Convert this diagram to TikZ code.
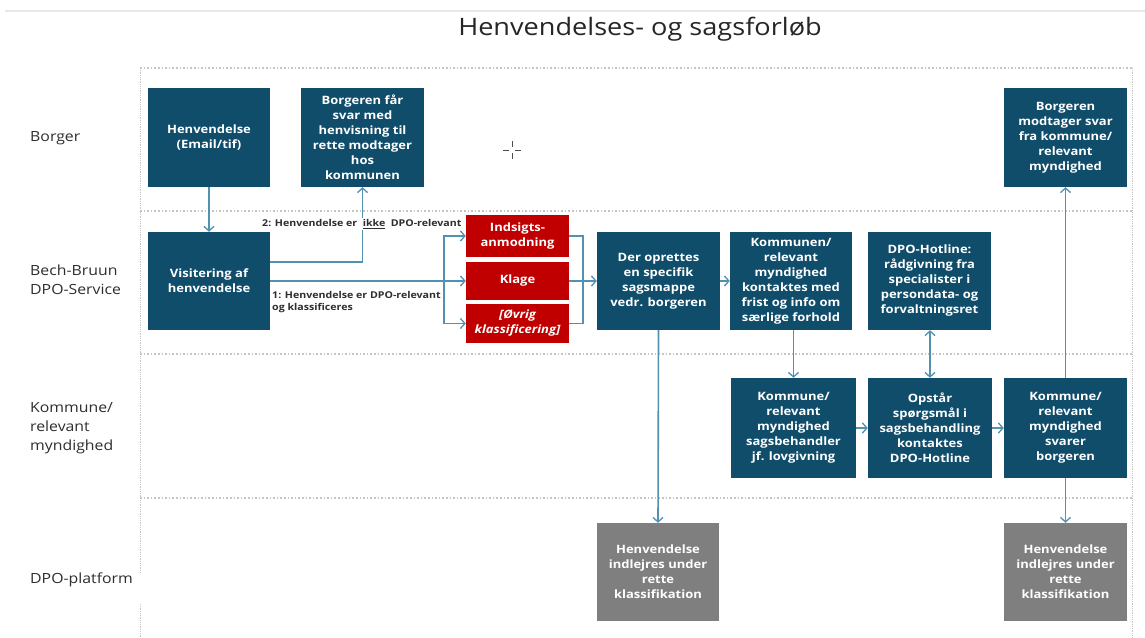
\documentclass[tikz,border=0pt]{standalone}
\usepackage{fontspec}
\setmainfont[FakeStretch=1.13]{Open Sans}
\usetikzlibrary{arrows.meta,calc}
\definecolor{dpoblue}{HTML}{0F4D6B}
\definecolor{dpored}{HTML}{C00000}
\definecolor{dpogray}{HTML}{7F7F7F}
\definecolor{connblue}{HTML}{5391B2}
\definecolor{lanegray}{HTML}{C4C4C4}
\definecolor{labelgray}{HTML}{2E2E2E}
\begin{document}
\begin{tikzpicture}[x=1pt,y=-1pt,
  boxtext/.style={text=white, font=\bfseries\fontsize{11.5}{15}\selectfont, align=center, inner sep=0pt},
  box/.style={boxtext, fill=dpoblue, minimum width=122pt, minimum height=99pt},
  redbox/.style={boxtext, fill=dpored, minimum width=103pt},
  graybox/.style={boxtext, fill=dpogray, minimum width=122pt, minimum height=98pt},
  lane/.style={draw=lanegray, line width=1.6pt, dotted},
  lanelabel/.style={anchor=west, align=left, text=labelgray, font=\fontsize{14}{19}\selectfont, inner sep=0pt},
  conn/.style={draw=connblue, line width=1.6pt},
  arr/.style={conn, -{Straight Barb[length=4.5pt,width=10pt,line width=1.3pt]}},
  darr/.style={conn, {Straight Barb[length=4.5pt,width=10pt,line width=1.3pt]}-{Straight Barb[length=4.5pt,width=10pt,line width=1.3pt]}},
  condlabel/.style={font=\bfseries\fontsize{9.4}{12.5}\selectfont, text=labelgray, inner sep=1pt, align=left}
]
\useasboundingbox (0,0) rectangle (1145,637);
\fill[white] (0,0) rectangle (1145,637);
% top rule
\draw[gray!18, line width=1.5pt] (5,11) -- (1145,11);
% title
\node[font=\fontsize{24}{28}\selectfont, text=black!85] (title) at (640,29) {Henvendelses- og sagsforløb};
% swimlanes
\draw[lane] (140,68) -- (1132,68);
\draw[lane] (140,211) -- (1132,211);
\draw[lane] (140,354) -- (1132,354);
\draw[lane] (140,498) -- (1132,498);
\draw[draw=lanegray, line width=0.8pt, densely dotted] (140,68) -- (140,573);
\draw[draw=lanegray, line width=0.8pt, densely dotted] (140,604) -- (140,637);
\draw[draw=lanegray, line width=0.8pt, densely dotted] (1132,68) -- (1132,637);
% lane labels
\node[lanelabel] (l1) at (30,138) {Borger};
\node[lanelabel] (l2) at (30,280) {Bech-Bruun\\DPO-Service};
\node[lanelabel] (l3) at (30,428) {Kommune/\\relevant\\myndighed};
\node[lanelabel] (l4) at (30,580) {DPO-platform};
% cursor
\draw[black!70, line width=0.9pt] (503,150) -- (509,150) (515,150) -- (521,150) (512,141) -- (512,147) (512,153) -- (512,159);
% Borger lane
\node[box] (henv) at (209,137.5) {Henvendelse\\(Email/tif)};
\node[box, minimum width=123pt] (svar1) at (362.5,137.5) {Borgeren får\\svar med\\henvisning til\\rette modtager\\hos\\kommunen};
\node[box, minimum width=123pt] (svar2) at (1065.5,137.5) {Borgeren\\modtager svar\\fra kommune/\\relevant\\myndighed};
% Bech-Bruun lane
\node[box, minimum height=98pt] (visit) at (209,281) {Visitering af\\henvendelse};
\node[redbox, minimum height=42pt] (indsigt) at (517.5,236) {Indsigts-\\anmodning};
\node[redbox, minimum height=38pt] (klage) at (517.5,281) {Klage};
\node[redbox, minimum height=39pt, font=\bfseries\itshape\fontsize{11.5}{15}\selectfont] (ovrig) at (517.5,323.5) {[Øvrig\\klassificering]};
\node[box, minimum width=123pt, minimum height=98pt] (opret) at (658.5,281) {Der oprettes\\en specifik\\sagsmappe\\vedr. borgeren};
\node[box, minimum height=98pt] (kontakt) at (791,281) {Kommunen/\\relevant\\myndighed\\kontaktes med\\frist og info om\\særlige forhold};
\node[box, minimum width=123pt, minimum height=98pt] (hotline) at (929.5,281) {DPO-Hotline:\\rådgivning fra\\specialister i\\persondata- og\\forvaltningsret};
% Kommune lane
\node[box, minimum width=125pt, minimum height=100pt] (sagsb) at (793.5,428) {Kommune/\\relevant\\myndighed\\sagsbehandler\\jf. lovgivning};
\node[box, minimum width=124pt, minimum height=100pt] (opstaar) at (930,428) {Opstår\\spørgsmål i\\sagsbehandling\\kontaktes\\DPO-Hotline};
\node[box, minimum width=123pt, minimum height=100pt] (svarer) at (1065.5,428) {Kommune/\\relevant\\myndighed\\svarer\\borgeren};
% DPO-platform lane
\node[graybox] (gray1) at (658,572) {Henvendelse\\indlejres under\\rette\\klassifikation};
\node[graybox, minimum width=123pt] (gray2) at (1065.5,572) {Henvendelse\\indlejres under\\rette\\klassifikation};
% connectors
\coordinate (br1) at (444,281);
\coordinate (br2) at (583,281);
\draw[arr] (henv.south) -- (visit.north);
\draw[arr] ([yshift=19pt]visit.east) -| (svar1.south);
\node[condlabel, fill=white, anchor=west] (lab2) at (261,224) {2: Henvendelse er \ \underline{ikke} \ DPO-relevant};
\draw[arr] (visit.east) -- (klage.west);
\draw[arr] (br1) |- (indsigt.west);
\draw[arr] (br1) |- (ovrig.west);
\node[condlabel, anchor=north west] (lab1) at (271,290) {1: Henvendelse er DPO-relevant\\og klassificeres};
\draw[conn] (indsigt.east) -| (br2);
\draw[conn] (ovrig.east) -| (br2);
\draw[arr] (klage.east) -- (opret.west);
\draw[arr] (opret.east) -- (kontakt.west);
\draw[arr] (opret.south) -- (gray1.north);
\draw[arr] (kontakt.south -| sagsb.north) -- (sagsb.north);
\draw[darr] (hotline.south -| opstaar.north) -- (opstaar.north);
\draw[arr] (sagsb.east) -- (opstaar.west);
\draw[arr] (opstaar.east) -- (svarer.west);
\draw[arr] (svarer.north) -- (svar2.south);
\draw[arr] (svarer.south) -- (gray2.north);
\end{tikzpicture}
\end{document}
